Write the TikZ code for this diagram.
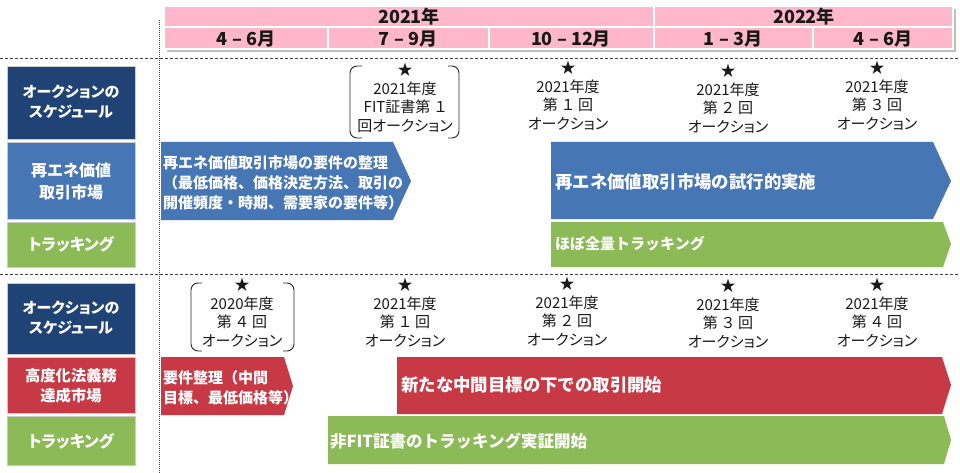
\documentclass[tikz,border=0pt]{standalone}
\usepackage{fontspec}
\setmainfont{Noto Sans CJK JP}
\newfontfamily\pfont{Noto Sans CJK JP}[RawFeature=+palt]
\definecolor{navy}{HTML}{1F4375}
\definecolor{bluearr}{HTML}{4776B5}
\definecolor{greenarr}{HTML}{8BBA56}
\definecolor{redarr}{HTML}{C73A45}
\definecolor{pinkhd}{HTML}{FFB7CE}
\tikzset{
  hdcell/.style={fill=pinkhd, draw=white, line width=1.2pt},
  hdtext/.style={font=\bfseries\fontsize{18}{20}\selectfont, text=black!90, inner sep=0},
  sep/.style={draw=black!75, line width=0.9pt, dash pattern=on 3pt off 2pt},
  vsep/.style={draw=black!75, line width=0.9pt, dash pattern=on 1pt off 1pt},
  lbox/.style={draw=white!80!black, line width=0.4pt},
  ltext/.style={text=white, font=\pfont\bfseries\fontsize{15}{20}\selectfont, align=center, inner sep=0},
  atext/.style={text=white, font=\bfseries\fontsize{15}{20}\selectfont, align=left, inner sep=0, anchor=west},
  btext/.style={text=white, font=\bfseries\fontsize{17.4}{20}\selectfont, inner sep=0, anchor=west},
  auc/.style={font=\pfont\fontsize{15}{18.5}\selectfont, align=center, inner sep=0, text=black!90},
  brk/.style={draw=black!85, line width=0.9pt, rounded corners=7pt},
}
\newcommand\fw[1]{\hspace{0.3em}#1\hspace{0.3em}}
\begin{document}
\begin{tikzpicture}[x=1pt,y=-1pt]
\useasboundingbox (0,0) rectangle (960,473);
% header shadow
\fill[black!25] (167,9) rectangle (956,52);
% header cells
\path[hdcell] (164,6) rectangle (654,27);
\path[hdcell] (654,6) rectangle (953,27);
\path[hdcell] (164,27) rectangle (328,49);
\path[hdcell] (328,27) rectangle (489,49);
\path[hdcell] (489,27) rectangle (654,49);
\path[hdcell] (654,27) rectangle (813,49);
\path[hdcell] (813,27) rectangle (953,49);
\node[hdtext] (y21) at (409,17) {2021年};
\node[hdtext] (y22) at (804,17) {2022年};
\node[hdtext] (m1) at (246,39) {4 – 6月};
\node[hdtext] (m2) at (408,39) {7 – 9月};
\node[hdtext] (m3) at (571,39) {10 – 12月};
\node[hdtext] (m4) at (733,39) {1 – 3月};
\node[hdtext] (m5) at (883,39) {4 – 6月};
% separators
\coordinate (s1a) at (0,58); \coordinate (s1b) at (960,58);
\coordinate (s2a) at (0,274); \coordinate (s2b) at (960,274);
\coordinate (v1a) at (159,20); \coordinate (v1b) at (159,473);
\draw[sep] (s1a) -- (s1b);
\draw[sep] (s2a) -- (s2b);
\draw[vsep] (v1a) -- (v1b);
% left labels
\fill[navy] (7,66) rectangle (135,139); \draw[lbox] (7,66) rectangle (135,139);
\fill[bluearr] (7,142) rectangle (135,219); \draw[lbox] (7,142) rectangle (135,219);
\fill[greenarr] (7,222) rectangle (135,267); \draw[lbox] (7,222) rectangle (135,267);
\fill[navy] (7,283) rectangle (135,354); \draw[lbox] (7,283) rectangle (135,354);
\fill[redarr] (7,357) rectangle (135,413); \draw[lbox] (7,357) rectangle (135,413);
\fill[greenarr] (7,416) rectangle (135,465); \draw[lbox] (7,416) rectangle (135,465);
\node[ltext] (la) at (71,102) {オークションの\\スケジュール};
\node[ltext, font=\bfseries\fontsize{16}{22}\selectfont] (lb) at (71,181) {再エネ価値\\取引市場};
\node[ltext, font=\pfont\bfseries\fontsize{16}{19}\selectfont] (lc) at (71,244) {トラッキング};
\node[ltext] (ld) at (71,318) {オークションの\\スケジュール};
\node[ltext, font=\bfseries\fontsize{15.3}{20}\selectfont] (le) at (71,386) {高度化法義務\\達成市場};
\node[ltext, font=\pfont\bfseries\fontsize{16}{19}\selectfont] (lf) at (71,441) {トラッキング};
% arrows
\fill[bluearr] (161,142) -- (393,142) -- (411,181) -- (393,220) -- (161,220) -- cycle;
\fill[bluearr] (551,142) -- (933,142) -- (951,181) -- (933,219) -- (551,219) -- cycle;
\fill[greenarr] (551,222) -- (943,222) -- (951,244) -- (943,267) -- (551,267) -- cycle;
\fill[redarr] (161,357) -- (284,357) -- (293,386) -- (284,415) -- (161,415) -- cycle;
\fill[redarr] (397,357) -- (942,357) -- (951,385) -- (942,414) -- (397,414) -- cycle;
\fill[greenarr] (328,416) -- (944,416) -- (951,440) -- (944,464) -- (328,464) -- cycle;
\node[atext] (ta) at (163,183) {再エネ価値取引市場の要件の整理\\（最低価格、価格決定方法、取引の\\開催頻度・時期、需要家の要件等）};
\node[btext] (tb) at (555,182) {再エネ価値取引市場の試行的実施};
\node[atext] (tc) at (555,244) {ほぼ全量トラッキング};
\node[atext] (td) at (163,388) {要件整理（中間\\目標、最低価格等）};
\node[btext] (te) at (401,385) {新たな中間目標の下での取引開始};
\node[btext, font=\bfseries\fontsize{16.5}{20}\selectfont] (tf) at (330,441) {非FIT証書のトラッキング実証開始};
% auctions, top
\node[auc] (a1) at (405,98) {★\\2021年度\\FIT証書第\fw{１}\\回オークション};
\node[auc] (a2) at (568,96) {★\\2021年度\\第\fw{１}回\\オークション};
\node[auc] (a3) at (728,99) {★\\2021年度\\第\fw{２}回\\オークション};
\node[auc] (a4) at (877,96) {★\\2021年度\\第\fw{３}回\\オークション};
% auctions, bottom
\node[auc] (b1) at (242,313) {★\\2020年度\\第\fw{４}回\\オークション};
\node[auc] (b2) at (405,313) {★\\2021年度\\第\fw{１}回\\オークション};
\node[auc] (b3) at (567,312) {★\\2021年度\\第\fw{２}回\\オークション};
\node[auc] (b4) at (728,314) {★\\2021年度\\第\fw{３}回\\オークション};
\node[auc] (b5) at (877,313) {★\\2021年度\\第\fw{４}回\\オークション};
% brackets
\draw[brk] (362,66) -- (350,66) -- (350,138) -- (362,138);
\draw[brk] (448,66) -- (459,66) -- (459,138) -- (448,138);
\draw[brk] (202,283) -- (191,283) -- (191,351) -- (202,351);
\draw[brk] (283,283) -- (294,283) -- (294,351) -- (283,351);
\end{tikzpicture}
\end{document}
